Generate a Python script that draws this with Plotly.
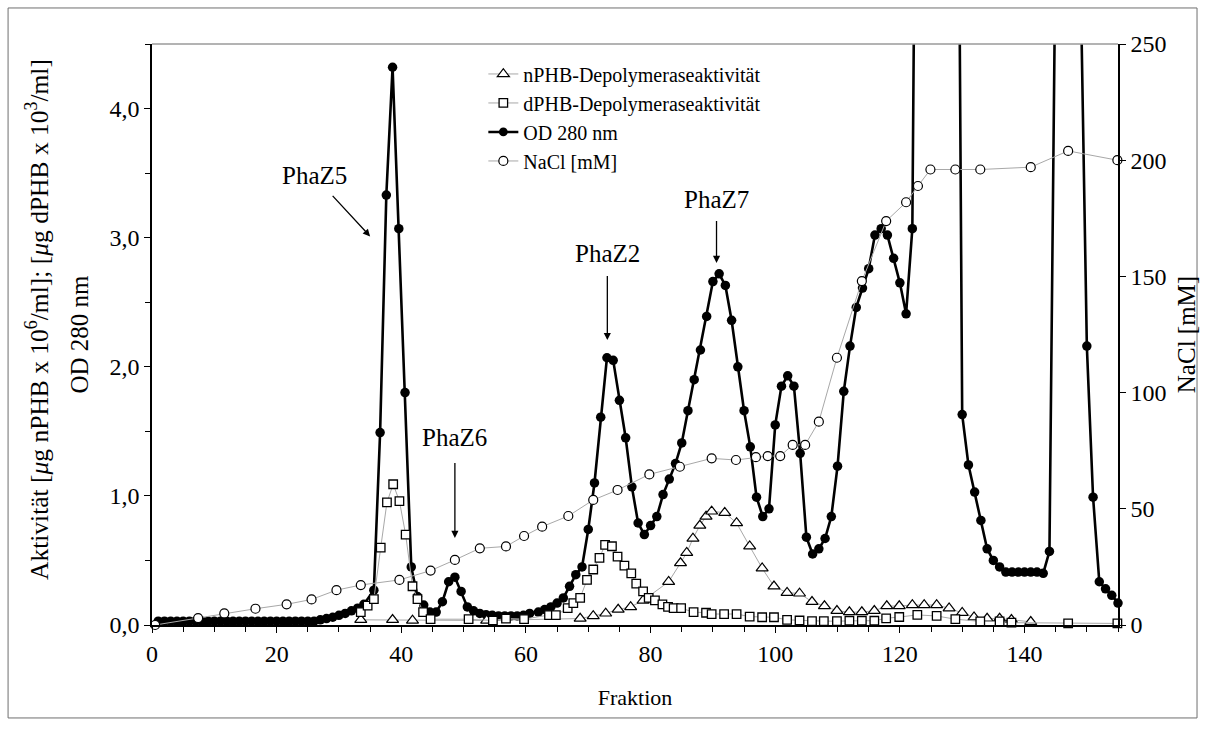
import plotly.graph_objects as go

# ---------------- data ----------------
od_x = [1, 2, 3, 4, 5, 6, 7, 8, 9, 10, 11, 12, 13, 14, 15, 16, 17, 18, 19, 20,
        21, 22, 23, 24, 25, 26, 27, 28, 29, 30, 31, 32, 33, 34,
        35.6, 36.6, 37.6, 38.6, 39.6, 40.6, 41.6, 42.6, 43.6, 44.6, 45.6, 46.6, 47.6,
        48.6, 49.6, 50.6, 51.6, 52.6, 53.6, 54.6, 55.6, 56.6, 57.6, 58.6, 59.6, 60.6,
        62, 63, 64, 65, 66, 67, 68, 69, 70, 71, 72, 73, 74, 75, 76, 77, 78, 79, 80, 81,
        82, 83, 84, 85, 86, 87, 88, 89, 90, 91, 92, 93, 94, 95, 96, 97, 98, 99, 100, 101,
        102, 103, 104, 105, 106, 107, 108, 109, 110, 111, 112, 113, 114, 115, 116, 117,
        118, 119, 120, 121, 122, 123, 124, 125, 126, 127, 128, 129, 130, 131, 132, 133,
        134, 135, 136, 137, 138, 139, 140, 141, 142, 143, 144, 145, 146, 147, 148, 149,
        150, 151, 152, 153, 154, 155]
od_y = [0.03, 0.03, 0.03, 0.03, 0.03, 0.03, 0.03, 0.03, 0.03, 0.03, 0.03, 0.03, 0.03,
        0.03, 0.03, 0.03, 0.03, 0.03, 0.03, 0.03, 0.03, 0.03, 0.03, 0.03, 0.03, 0.03,
        0.04, 0.05, 0.06, 0.075, 0.09, 0.11, 0.13, 0.16,
        0.27, 1.49, 3.33, 4.32, 3.07, 1.80, 0.45, 0.22, 0.155, 0.10, 0.10, 0.18, 0.335,
        0.37, 0.26, 0.14, 0.11, 0.09, 0.08, 0.075, 0.07, 0.07, 0.07, 0.07, 0.075, 0.09,
        0.10, 0.12, 0.14, 0.17, 0.21, 0.30, 0.39, 0.45, 0.74, 1.10,
        1.61, 2.07, 2.05, 1.74, 1.45, 1.07, 0.79, 0.70, 0.77, 0.84,
        1.01, 1.13, 1.25, 1.41, 1.66, 1.90, 2.13, 2.39, 2.66, 2.72,
        2.63, 2.36, 2.00, 1.66, 1.38, 0.99, 0.84, 0.90, 1.55, 1.85,
        1.93, 1.85, 1.33, 0.68, 0.55, 0.59, 0.67, 0.84, 1.23, 1.81,
        2.16, 2.46, 2.61, 2.76, 3.02, 3.07, 3.02, 2.84, 2.65, 2.41,
        3.07, 9.4, 10.0, 10.0, 10.0, 10.0, 10.0, 9.1, 1.63, 1.24,
        1.03, 0.81, 0.59, 0.50, 0.45, 0.41, 0.41, 0.41, 0.41, 0.41,
        0.41, 0.40, 0.57, 5.4, 6.0, 6.0, 6.0, 5.0, 2.16, 0.99,
        0.335, 0.28, 0.23, 0.17]

nphb_x = [33.5, 38.6, 41.8, 53.7, 68.7, 70.8, 72.8, 74.8, 76.8, 78.8, 82.9, 84.8, 85.8,
          86.8, 87.9, 88.9, 89.8, 91.9, 93.8, 95.9, 97.9, 99.8, 101.9, 103.9, 105.9,
          107.9, 109.9, 111.9, 113.9, 115.9, 117.9, 119.9, 122.0, 123.9, 125.9, 127.9,
          130.0, 131.9, 134.0, 136.0, 137.9, 141.0]
nphb_y = [0.04, 0.04, 0.035, 0.035, 0.05, 0.07, 0.09, 0.12, 0.14, 0.19, 0.335, 0.48, 0.56,
          0.67, 0.77, 0.84, 0.88, 0.87, 0.79, 0.61, 0.44, 0.30, 0.25, 0.245, 0.18,
          0.147, 0.11, 0.10, 0.10, 0.11, 0.147, 0.147, 0.155, 0.155, 0.155, 0.13,
          0.095, 0.06, 0.05, 0.05, 0.04, 0.025]

dphb_x = [33.5, 34.6, 35.6, 36.7, 37.7, 38.7, 39.7, 40.7, 41.8, 42.6, 43.5, 44.7, 50.8,
          54.7, 56.8, 59.7, 63.7, 64.8, 66.7, 67.6, 68.7, 69.8, 70.8, 71.8, 72.7, 73.8,
          74.7, 75.8, 76.9, 77.7, 78.8, 79.7, 80.7, 81.9, 82.8, 83.7, 84.9, 86.9, 88.9,
          89.8, 91.8, 93.8, 95.9, 97.9, 99.8, 101.9, 103.9, 105.9, 107.8, 109.9, 111.9,
          113.9, 115.9, 117.8, 119.9, 122.8, 125.9, 128.9, 132.9, 136.0, 137.9, 147.0, 154.9]
dphb_y = [0.10, 0.15, 0.20, 0.60, 0.95, 1.09, 0.96, 0.70, 0.30, 0.20, 0.10, 0.045, 0.045,
          0.035, 0.05, 0.046, 0.077, 0.077, 0.13, 0.17, 0.21, 0.35, 0.43, 0.52, 0.62, 0.61,
          0.53, 0.46, 0.40, 0.32, 0.26, 0.21, 0.19, 0.16, 0.14, 0.13, 0.13, 0.10, 0.095,
          0.085, 0.085, 0.085, 0.065, 0.06, 0.06, 0.04, 0.035, 0.03, 0.03, 0.03, 0.033,
          0.033, 0.033, 0.052, 0.062, 0.078, 0.07, 0.045, 0.028, 0.028, 0.018, 0.012, 0.012]

nacl_x = [0.5, 7.4, 11.6, 16.6, 21.6, 25.6, 29.6, 33.5, 39.7, 44.7, 48.6, 52.6, 56.8, 59.7,
          62.6, 66.8, 70.8, 74.7, 79.8, 84.7, 89.8, 93.7, 96.9, 98.8, 100.8, 102.8, 104.8,
          107.0, 109.9, 113.9, 117.8, 121.0, 122.9, 124.9, 128.9, 132.9, 141.0, 147.0, 154.9]
nacl_y = [0, 3, 5, 7, 8.9, 11, 15, 17.2, 19.4, 23.4, 28, 33, 33.8, 38.3,
          42.3, 46.9, 53.8, 58.1, 64.8, 68.1, 71.7, 71, 72.2, 72.7, 72.7, 77.5, 77.5,
          87.5, 115, 148, 173.8, 181.9, 188.9, 196, 196, 196, 197, 204, 200]

# peak labels: label, text centre, arrow head (data coords)
peak_labels = ["PhaZ5", "PhaZ6", "PhaZ2", "PhaZ7"]
label_pos = [(26.0, 3.48), (48.6, 1.456), (73.06, 2.874), (90.58, 3.292)]
arrow_head = [(35.0, 3.01), (48.6, 0.674), (73.06, 2.207), (90.58, 2.804)]
arrow_gap = [7, 11, 7, 6]

# ---------------- styling ----------------
FONT = "Liberation Serif"
XMAX = 155
YMAX = 4.5
Y2MAX = 250
GRAY = "#a8a8a8"

fig = go.Figure()

od_sizes = [9.5 if v <= YMAX else 0 for v in od_y]

fig.add_trace(go.Scatter(
    x=od_x, y=od_y, mode="lines+markers", name="OD 280 nm",
    line=dict(color="black", width=2.6),
    marker=dict(symbol="circle", size=od_sizes, color="black",
                line=dict(width=0), opacity=1),
    cliponaxis=False, legendrank=3))

fig.add_trace(go.Scatter(
    x=nphb_x, y=nphb_y, mode="lines+markers", name="nPHB-Depolymeraseaktivität",
    line=dict(color=GRAY, width=1),
    marker=dict(symbol="triangle-up", size=10.5, color="white",
                line=dict(color="black", width=1.2)),
    cliponaxis=False, legendrank=1))

fig.add_trace(go.Scatter(
    x=dphb_x, y=dphb_y, mode="lines+markers", name="dPHB-Depolymeraseaktivität",
    line=dict(color=GRAY, width=1),
    marker=dict(symbol="square", size=8.5, color="white",
                line=dict(color="black", width=1.3)),
    cliponaxis=False, legendrank=2))

fig.add_trace(go.Scatter(
    x=nacl_x, y=nacl_y, mode="lines+markers", name="NaCl [mM]", yaxis="y2",
    line=dict(color=GRAY, width=1),
    marker=dict(symbol="circle", size=9, color="white",
                line=dict(color="black", width=1.2)),
    cliponaxis=False, legendrank=4))

annotations = []
for lab, (tx, ty), (hx, hy), gap in zip(peak_labels, label_pos, arrow_head, arrow_gap):
    annotations.append(dict(x=hx, y=hy, xref="x", yref="y", ax=tx, ay=ty,
                            axref="x", ayref="y", text=lab, showarrow=True,
                            font=dict(family=FONT, size=25, color="black"),
                            arrowhead=2, arrowsize=1.1, arrowwidth=1.3,
                            arrowcolor="black", standoff=0, startstandoff=gap))

annotations.append(
    dict(x=-0.118, y=0.525, xref="paper", yref="paper", textangle=-90,
         text="Aktivität [<i>μ</i>g nPHB x 10<sup>6</sup>/ml]; [<i>μ</i>g dPHB x 10<sup>3</sup>/ml]",
         showarrow=False, xanchor="center", yanchor="middle",
         font=dict(family=FONT, size=25.5, color="black")))

tickfont = dict(family=FONT, size=24, color="black")
titlefont = dict(family=FONT, size=25, color="black")

fig.update_layout(
    width=1205, height=735,
    margin=dict(l=152, r=87, t=44, b=110),
    paper_bgcolor="white", plot_bgcolor="white",
    separators=",.",
    font=dict(family=FONT, color="black"),
    showlegend=True,
    legend=dict(x=0.343, y=0.982, xanchor="left", yanchor="top",
                bgcolor="rgba(0,0,0,0)", borderwidth=0,
                font=dict(family=FONT, size=20, color="black"),
                tracegroupgap=0, itemwidth=30),
    xaxis=dict(range=[0, XMAX], dtick=20, tick0=0, showgrid=False, zeroline=False,
               showline=True, linecolor="black", linewidth=1.5,
               ticks="outside", ticklen=6, tickwidth=1.2, tickcolor="black",
               minor=dict(dtick=5, ticks="outside", ticklen=5, tickwidth=1, tickcolor="black"),
               tickfont=tickfont, ticklabelstandoff=0,
               title=dict(text="Fraktion", font=dict(family=FONT, size=22, color="black"),
                          standoff=24),
               automargin=False),
    yaxis=dict(range=[0, YMAX], dtick=1, tick0=0, tickformat=".1f",
               showgrid=False, zeroline=False,
               showline=True, linecolor="black", linewidth=1.5,
               ticks="outside", ticklen=6, tickwidth=1.2, tickcolor="black",
               minor=dict(dtick=0.5, ticks="outside", ticklen=5, tickwidth=1, tickcolor="black"),
               tickfont=tickfont,
               title=dict(text="OD 280 nm", font=titlefont, standoff=14),
               automargin=False),
    yaxis2=dict(range=[0, Y2MAX], dtick=50, tick0=0, overlaying="y", side="right",
                showgrid=False, zeroline=False,
                showline=True, linecolor="black", linewidth=1.5,
                ticks="outside", ticklen=6, tickwidth=1.2, tickcolor="black",
                tickfont=tickfont,
                title=dict(text="NaCl [mM]", font=titlefont, standoff=12),
                automargin=False),
    annotations=annotations,
    shapes=[
        dict(type="line", xref="paper", yref="paper", x0=0, x1=1, y0=1, y1=1,
             line=dict(color="#9a9a9a", width=1.5)),
        dict(type="rect", xref="paper", yref="paper",
             x0=-0.149, x1=1.0818, y0=-0.160, y1=1.062,
             line=dict(color="#6f6f6f", width=1)),
    ],
)

fig.write_html("out.html")
